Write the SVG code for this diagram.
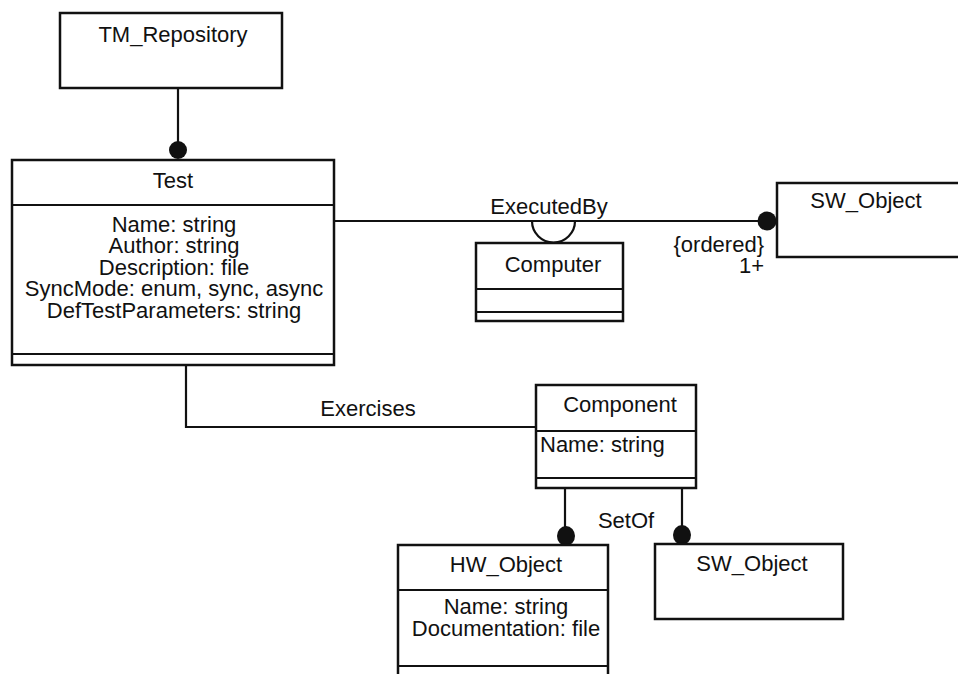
<svg xmlns="http://www.w3.org/2000/svg" width="958" height="674" viewBox="0 0 958 674">
  <style>
    .box { fill: #fff; stroke: #111; stroke-width: 2.5; }
    .div { stroke: #111; stroke-width: 2; fill: none; }
    .ln { stroke: #111; stroke-width: 2.2; fill: none; }
    .dot { fill: #111; }
    text { font-family: "Liberation Sans", Arial, sans-serif; font-size: 22px; fill: #111; }
    .c { text-anchor: middle; }
    .r { text-anchor: end; }
  </style>
  <rect width="958" height="674" fill="#fff"/>

  <!-- associations -->
  <g id="connectors">
    <!-- TM_Repository to Test -->
    <line class="ln" x1="178" y1="88" x2="178" y2="148"/>
    <circle class="dot" cx="178" cy="150" r="9"/>
    <!-- ExecutedBy: Test to SW_Object, qualified by Computer -->
    <line class="ln" x1="334" y1="221" x2="765" y2="221"/>
    <circle class="dot" cx="767" cy="221" r="9.5"/>
    <path class="ln" d="M 532 221 A 21.5 21.5 0 0 0 575 221"/>
    <text class="c" x="549" y="214">ExecutedBy</text>
    <text class="r" x="764" y="252">{ordered}</text>
    <text class="r" x="764" y="273">1+</text>
    <!-- Exercises: Test to Component -->
    <polyline class="ln" points="186,365 186,427 539,427"/>
    <text class="c" x="368" y="416">Exercises</text>
    <!-- SetOf: Component to HW_Object / SW_Object -->
    <line class="ln" x1="565" y1="488" x2="565" y2="535"/>
    <ellipse class="dot" cx="566" cy="536" rx="9" ry="10"/>
    <line class="ln" x1="682" y1="488" x2="682" y2="534"/>
    <ellipse class="dot" cx="682" cy="535" rx="9" ry="10"/>
    <text class="c" x="626" y="528">SetOf</text>
  </g>

  <g id="tm-repository">
    <rect class="box" x="60" y="13" width="222" height="75"/>
    <text class="c" x="173" y="42">TM_Repository</text>
  </g>

  <g id="test">
    <rect class="box" x="12" y="160" width="322" height="205"/>
    <line class="div" x1="12" y1="205" x2="334" y2="205"/>
    <line class="div" x1="12" y1="354" x2="334" y2="354"/>
    <text class="c" x="173" y="188">Test</text>
    <text class="c" x="174" y="232">Name: string</text>
    <text class="c" x="174" y="253">Author: string</text>
    <text class="c" x="174" y="275">Description: file</text>
    <text class="c" x="174" y="296">SyncMode: enum, sync, async</text>
    <text class="c" x="174" y="318">DefTestParameters: string</text>
  </g>

  <g id="computer">
    <rect class="box" x="476" y="243" width="147" height="78"/>
    <line class="div" x1="476" y1="289" x2="623" y2="289"/>
    <line class="div" x1="476" y1="312" x2="623" y2="312"/>
    <text class="c" x="553" y="272">Computer</text>
  </g>

  <g id="sw-object-top">
    <rect class="box" x="777" y="183" width="190" height="74"/>
    <text class="c" x="866" y="208">SW_Object</text>
  </g>

  <g id="component">
    <rect class="box" x="536" y="385" width="160" height="103"/>
    <line class="div" x1="536" y1="431" x2="696" y2="431"/>
    <line class="div" x1="536" y1="478" x2="696" y2="478"/>
    <text class="c" x="620" y="412">Component</text>
    <text x="540" y="452">Name: string</text>
  </g>

  <g id="hw-object">
    <rect class="box" x="398" y="545" width="210" height="140"/>
    <line class="div" x1="398" y1="590" x2="608" y2="590"/>
    <line class="div" x1="398" y1="666" x2="608" y2="666"/>
    <text class="c" x="506" y="572">HW_Object</text>
    <text class="c" x="506" y="614">Name: string</text>
    <text class="c" x="506" y="636">Documentation: file</text>
  </g>

  <g id="sw-object-bottom">
    <rect class="box" x="655" y="544" width="188" height="75"/>
    <text class="c" x="752" y="571">SW_Object</text>
  </g>
</svg>
